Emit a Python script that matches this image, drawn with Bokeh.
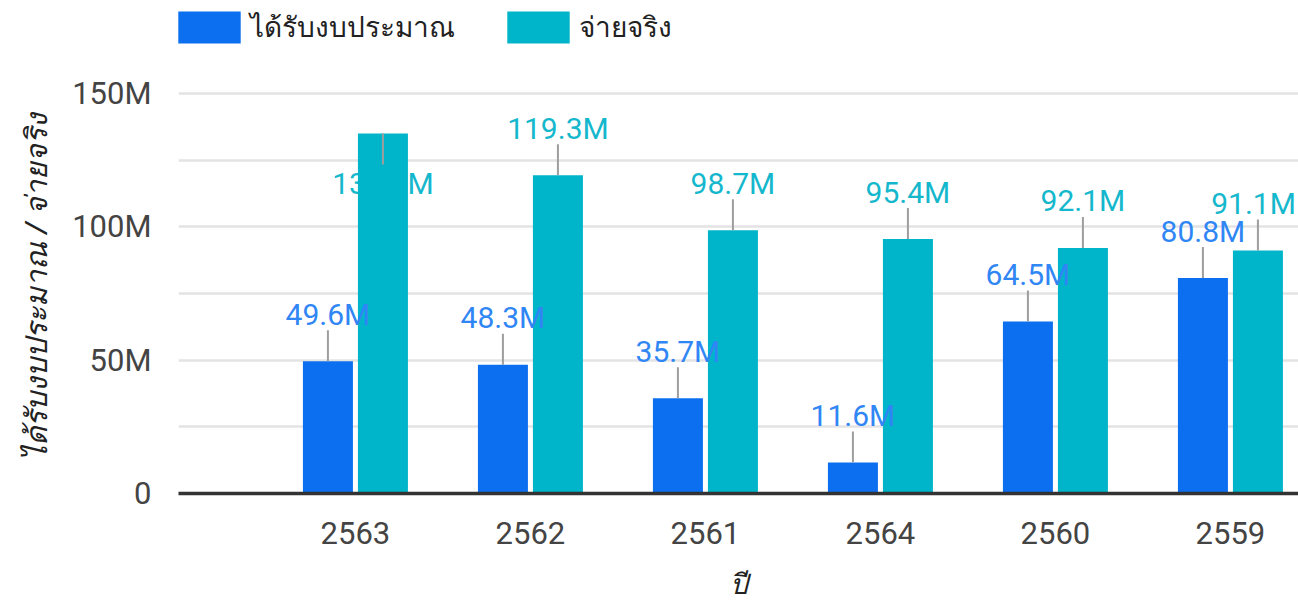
from bokeh.plotting import figure
from bokeh.models import (Range1d, FixedTicker, ColumnDataSource, Legend, LegendItem, Title)
from bokeh.core.properties import value
from bokeh.embed import file_html
from bokeh.resources import INLINE

# ---- data ----
years = ["2563", "2562", "2561", "2564", "2560", "2559"]
budget = [49.6, 48.3, 35.7, 11.6, 64.5, 80.8]      # ได้รับงบประมาณ (M)
actual = [135.0, 119.3, 98.7, 95.4, 92.1, 91.1]    # จ่ายจริง (M)
series_names = ["ได้รับงบประมาณ", "จ่ายจริง"]
y_title = "ได้รับงบประมาณ / จ่ายจริง"
x_title = "ปี"
y_ticks = [0, 50, 100, 150]
y_tick_labels = ["0", "50M", "100M", "150M"]
y_minor = [25, 75, 125]

BLUE = "#0b6ff0"
TEAL = "#00b5c9"
BLUE_LBL = "#2f86f4"
TEAL_LBL = "#14b7cc"

W, H = 1298, 608
BORDER_L, BORDER_B = 178, 115
FRAME_H = H - BORDER_B            # frame spans full height above the axis
FRAME_W = W - BORDER_L
Y_TOP = 150.0                     # top gridline (chart area top)
px_per_y = 400.0 / Y_TOP          # 150M spans 400 px
y_end = FRAME_H / px_per_y
px_per_x = 175.0
x_start = -1.011
x_end = x_start + FRAME_W / px_per_x

p = figure(width=W, height=H, output_backend="svg", toolbar_location=None,
           x_range=Range1d(x_start, x_end), y_range=Range1d(0, y_end),
           min_border_left=BORDER_L, min_border_right=0, min_border_top=0,
           min_border_bottom=BORDER_B)
p.outline_line_color = None
p.background_fill_color = "white"
p.border_fill_color = "white"

# grid
p.xgrid.grid_line_color = None
p.ygrid.grid_line_color = "#e3e3e3"
p.ygrid.grid_line_width = 2.5
p.ygrid.minor_grid_line_color = "#e3e3e3"
p.ygrid.minor_grid_line_width = 2.5

# axes
idx = list(range(len(years)))
p.xaxis.ticker = FixedTicker(ticks=idx)
p.xaxis.major_label_overrides = {i: y for i, y in zip(idx, years)}
p.xaxis.axis_line_color = "#333333"
p.xaxis.axis_line_width = 3.5
p.xaxis.major_tick_line_color = None
p.xaxis.minor_tick_line_color = None
p.xaxis.major_label_standoff = 22
p.xaxis.major_label_text_font = "Roboto"
p.xaxis.major_label_text_font_size = "31px"
p.xaxis.major_label_text_color = "#444444"
p.xaxis.axis_label = x_title
p.xaxis.axis_label_text_font_style = "italic"
p.xaxis.axis_label_text_font_size = "28px"
p.xaxis.axis_label_text_color = "#222222"
p.xaxis.axis_label_standoff = 22

p.yaxis.ticker = FixedTicker(ticks=y_ticks, minor_ticks=y_minor)
p.yaxis.major_label_overrides = {t: l for t, l in zip(y_ticks, y_tick_labels)}
p.yaxis.axis_line_color = None
p.yaxis.major_tick_line_color = None
p.yaxis.minor_tick_line_color = None
p.yaxis.major_label_standoff = 21
p.yaxis.major_label_text_font = "Roboto"
p.yaxis.major_label_text_font_size = "31px"
p.yaxis.major_label_text_color = "#444444"

# y title centred on the 0..150M chart area (not the whole frame)
yt = Title(text=y_title, align="left", offset=33, vertical_align="middle",
           standoff=26, text_font_style="italic", text_font_size="30px",
           text_color="#222222", text_font="Noto Sans")
p.add_layout(yt, "left")

# geometry (screen px converted to data units)
off = 27.5 / px_per_x
bw = 50.0 / px_per_x
label_gap = 47.0 / px_per_y       # label offset above bar top
lead = 31.0 / px_per_y            # leader line length
label_half_w = 45.0 / px_per_x

def label_rows(vals, shift):
    xs, ys, texts, lx, ly0, ly1 = [], [], [], [], [], []
    for i, v in enumerate(vals):
        xc = i + shift
        xl = min(xc, x_end - label_half_w)
        txt = f"{v:.1f}M"
        if v + label_gap + 20.0 / px_per_y > Y_TOP:
            ty = v - 50.0 / px_per_y
            l1 = v - lead
        else:
            ty = v + label_gap
            l1 = v + lead
        xs.append(xl); ys.append(ty); texts.append(txt)
        lx.append(xc); ly0.append(v); ly1.append(l1)
    return dict(x=xs, y=ys, text=texts), dict(x0=lx, y0=ly0, x1=lx, y1=ly1)

blue_lbl, blue_lead = label_rows(budget, -off)
teal_lbl, teal_lead = label_rows(actual, off)

# teal labels first (bars may cover them)
p.text(x="x", y="y", text="text", source=ColumnDataSource(teal_lbl),
       text_font=value("Roboto"), text_font_size="30px", text_color=TEAL_LBL,
       text_align="center", text_baseline="alphabetic")

r_blue = p.vbar(x=[i - off for i in idx], top=budget, width=bw, bottom=0,
                fill_color=BLUE, line_color=None)
r_teal = p.vbar(x=[i + off for i in idx], top=actual, width=bw, bottom=0,
                fill_color=TEAL, line_color=None)

for lead_d in (blue_lead, teal_lead):
    p.segment(x0="x0", y0="y0", x1="x1", y1="y1", source=ColumnDataSource(lead_d),
              line_color="#9e9e9e", line_width=2)

p.text(x="x", y="y", text="text", source=ColumnDataSource(blue_lbl),
       text_font=value("Roboto"), text_font_size="30px", text_color=BLUE_LBL,
       text_align="center", text_baseline="alphabetic")

legend = Legend(items=[LegendItem(label=series_names[0], renderers=[r_blue]),
                       LegendItem(label=series_names[1], renderers=[r_teal])],
                location=(-8, FRAME_H - 49), orientation="horizontal",
                glyph_width=78, glyph_height=40, label_standoff=2, spacing=44,
                padding=0, margin=0, border_line_color=None,
                background_fill_alpha=0, label_text_font_size="28px",
                label_text_color="#222222", label_height=40)
p.add_layout(legend, "center")

open("out.html", "w").write(file_html(p, INLINE))
